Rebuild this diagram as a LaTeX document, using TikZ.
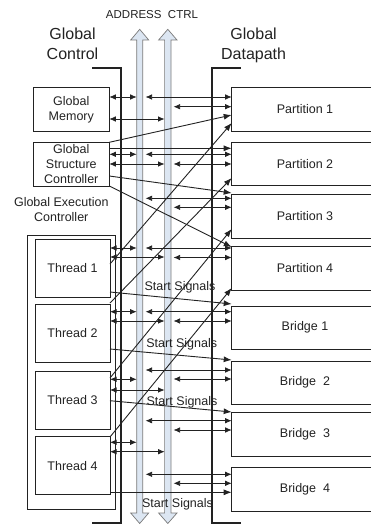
\documentclass[tikz,border=0pt]{standalone}
\usepackage{fontspec}
\setmainfont{Liberation Sans}
\usetikzlibrary{arrows.meta}
\definecolor{busfill}{HTML}{DCE6F2}
\definecolor{busline}{HTML}{7A7A7A}
\definecolor{ink}{HTML}{222222}
\begin{document}
\begin{tikzpicture}[x=1pt,y=-1pt,
  box/.style={draw=ink, line width=1pt, inner sep=0pt, outer sep=0pt, anchor=north west,
    align=center, text=ink, font=\fontsize{12.5}{15}\selectfont},
  lbl/.style={text=ink, align=center, inner sep=0pt},
  big/.style={lbl, font=\fontsize{16}{20}\selectfont},
  small/.style={lbl, font=\fontsize{12.5}{15}\selectfont},
  link/.style={draw=ink, line width=0.75pt, {Latex[length=6.5pt,width=5.5pt]}-{Latex[length=6.5pt,width=5.5pt]}},
  feed/.style={draw=ink, line width=0.9pt, -{Latex[length=8pt,width=6pt]}},
  bracket/.style={draw=ink, line width=2pt},
  bus/.style={draw=busline, fill=busfill, line width=0.7pt},
]
\useasboundingbox (0,0) rectangle (371,524);
\clip (0,0) rectangle (371,524);

% address and control buses (hollow double arrows)
\draw[bus] (136.7,40) -- (130.7,40) -- (139.7,29.3) -- (148.7,40) -- (142.7,40)
  -- (142.7,513) -- (148.7,513) -- (139.7,523.5) -- (130.7,513) -- (136.7,513) -- cycle;
\draw[bus] (164.6,40) -- (158.6,40) -- (167.8,29.3) -- (177,40) -- (171,40)
  -- (171,513) -- (177,513) -- (167.8,523.5) -- (158.6,513) -- (164.6,513) -- cycle;
\coordinate (aL) at (136.7,0);
\coordinate (aR) at (145.5,0);
\coordinate (cL) at (164.6,0);
\coordinate (cR) at (173.5,0);

% titles
\node[lbl, font=\fontsize{11.5}{13}\selectfont] (buses) at (152,14.7) {ADDRESS\ \ CTRL};
\node[big] (gctl) at (72.5,44.2) {Global\\Control};
\node[big] (gdp) at (253.6,45.5) {Global\\Datapath};

% global control side
\node[box, minimum width=76pt, minimum height=44.4pt] (gm) at (33.3,87.3) {Global\\Memory};
\node[box, minimum width=76pt, minimum height=43.7pt] (gsc) at (33.3,142.3) {Global\\Structure\\Controller};
\node[small] (geclab) at (61.3,209.7) {Global Execution\\Controller};
\node[box, minimum width=87.3pt, minimum height=274.3pt] (gec) at (27.7,235) {};
\node[box, minimum width=75pt, minimum height=58pt] (t1) at (35,239.3) {Thread 1};
\node[box, minimum width=75pt, minimum height=58pt] (t2) at (35,304.3) {Thread 2};
\node[box, minimum width=75pt, minimum height=58pt] (t3) at (35,371) {Thread 3};
\node[box, minimum width=75pt, minimum height=58pt] (t4) at (35,436.7) {Thread 4};

% global datapath side
\node[box, minimum width=146.6pt, minimum height=44.4pt] (p1) at (231.7,87.3) {Partition 1};
\node[box, minimum width=146.6pt, minimum height=43.4pt] (p2) at (231.7,142.3) {Partition 2};
\node[box, minimum width=146.6pt, minimum height=44.3pt] (p3) at (231.7,194) {Partition 3};
\node[box, minimum width=146.6pt, minimum height=44pt] (p4) at (231.7,246) {Partition 4};
\node[box, minimum width=146.6pt, minimum height=43.3pt] (b1) at (231.7,306) {Bridge 1};
\node[box, minimum width=146.6pt, minimum height=43.3pt] (b2) at (231.7,361) {Bridge\ \ 2};
\node[box, minimum width=146.6pt, minimum height=43.7pt] (b3) at (231.7,412.3) {Bridge\ \ 3};
\node[box, minimum width=146.6pt, minimum height=43.7pt] (b4) at (231.7,467.3) {Bridge\ \ 4};

% bus links: global memory / partition 1
\draw[link] (gm.east |- 0,97) -- (aL |- 0,97);
\draw[link] (aR |- 0,97) -- (p1.west |- 0,97);
\draw[link] (cR |- 0,106.7) -- (p1.west |- 0,106.7);
\draw[link] (gm.east |- 0,119) -- (cL |- 0,119);

% structure controller
\draw[feed] (gsc.north east) -- (p1.west |- 0,115);
\draw[feed] (gsc.east |- 0,148.3) -- (p2.west |- 0,148.3);
\draw[link] (gsc.east |- 0,154.3) -- (aL |- 0,154.3);
\draw[link] (aR |- 0,154.3) -- (p2.west |- 0,154.3);
\draw[link] (gsc.east |- 0,164) -- (cL |- 0,164);
\draw[link] (cR |- 0,164) -- (p2.west |- 0,164);
\draw[feed] (gsc.east |- 0,176) -- (p3.west |- 0,193);
\draw[feed] (gsc.south east) -- (p4.west |- 0,247);

% partition 3
\draw[link] (aR |- 0,198.3) -- (p3.west |- 0,198.3);
\draw[link] (cR |- 0,207.3) -- (p3.west |- 0,207.3);

% thread 1 / partition 4
\draw[link] (t1.east |- 0,248) -- (aL |- 0,248);
\draw[link] (aR |- 0,248) -- (p4.west |- 0,248);
\draw[link] (t1.east |- 0,257) -- (cL |- 0,257);
\draw[link] (cR |- 0,257.5) -- (p4.west |- 0,257.5);

% thread 2 / bridge 1
\draw[link] (t2.east |- 0,311.7) -- (aL |- 0,311.7);
\draw[link] (aR |- 0,311.7) -- (b1.west |- 0,311.7);
\draw[link] (t2.east |- 0,321) -- (cL |- 0,321);
\draw[link] (cR |- 0,321) -- (b1.west |- 0,321);

% bridge 2
\draw[link] (aR |- 0,370) -- (b2.west |- 0,370);
\draw[link] (cR |- 0,379) -- (b2.west |- 0,379);

% thread 3
\draw[link] (t3.east |- 0,379.3) -- (aL |- 0,379.3);
\draw[link] (t3.east |- 0,390) -- (cL |- 0,390);

% bridge 3
\draw[link] (aR |- 0,420.7) -- (b3.west |- 0,420.7);
\draw[link] (cR |- 0,430) -- (b3.west |- 0,430);

% thread 4
\draw[link] (t4.east |- 0,442.3) -- (aL |- 0,442.3);
\draw[link] (t4.east |- 0,451.7) -- (cL |- 0,451.7);

% bridge 4
\draw[link] (aR |- 0,474.3) -- (b4.west |- 0,474.3);
\draw[link] (cR |- 0,483.3) -- (b4.west |- 0,483.3);

% threads drive their partitions
\draw[feed] (t1.east |- 0,264) -- (p1.west |- 0,123);
\draw[feed] (t2.east |- 0,303) -- (p2.west |- 0,178);
\draw[feed] (t3.east |- 0,378) -- (p3.west |- 0,229);
\draw[feed] (t4.east |- 0,437) -- (p4.west |- 0,288);

% start signals to the bridges
\draw[feed] (t1.east |- 0,292) -- (b1.west |- 0,304);
\draw[feed] (t2.east |- 0,349) -- (b2.west |- 0,360);
\draw[feed] (t3.east |- 0,400.7) -- (b3.west |- 0,412);
\draw[feed] (t4.east |- 0,492.3) -- (b4.west |- 0,492.3);
\node[small, anchor=base] (ss1) at (180,290) {Start Signals};
\node[small, anchor=base] (ss2) at (181.7,347.5) {Start Signals};
\node[small, anchor=base] (ss3) at (182,405.7) {Start Signals};
\node[small, anchor=base] (ss4) at (177.5,507.4) {Start Signals};

% region brackets
\draw[bracket] (92,68) -- (121,68) -- (121,523) -- (92,523);
\draw[bracket] (240.7,68) -- (211.7,68) -- (211.7,523) -- (240.7,523);
\end{tikzpicture}
\end{document}
